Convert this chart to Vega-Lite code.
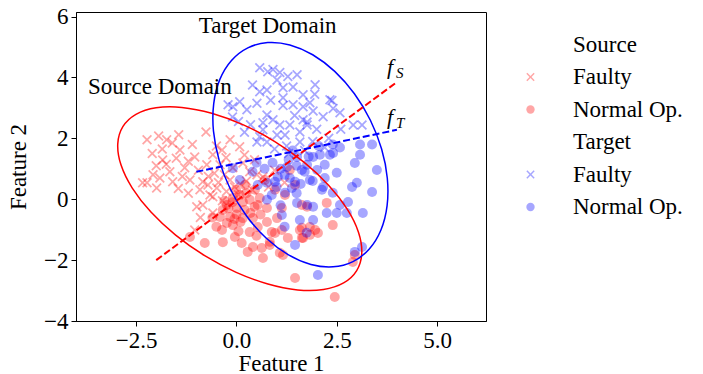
{
  "$schema": "https://vega.github.io/schema/vega-lite/v6.json",
  "width": 410,
  "height": 309,
  "autosize": {"type": "none"},
  "padding": {"left": 76, "top": 12, "right": 217, "bottom": 53},
  "background": "white",
  "config": {
    "font": "Liberation Serif",
    "view": {"stroke": "black", "strokeWidth": 1},
    "axis": {"grid": false, "domainColor": "black", "tickColor": "black", "labelColor": "black", "titleColor": "black", "labelFont": "Liberation Serif", "titleFont": "Liberation Serif", "labelFontSize": 23, "titleFontSize": 23, "titleFontWeight": "normal", "tickSize": 5, "labelPadding": 3}
  },
  "datasets": {
    "pts": [
      {"x":-2.23,"y":1.95,"c":"S_F"},{"x":-1.94,"y":2.08,"c":"S_F"},{"x":-1.74,"y":1.95,"c":"S_F"},{"x":-1.44,"y":2.12,"c":"S_F"},{"x":-0.76,"y":2.21,"c":"S_F"},{"x":-1.84,"y":1.29,"c":"S_F"},{"x":-1.41,"y":1.62,"c":"S_F"},{"x":-1.04,"y":1.39,"c":"S_F"},{"x":-2.08,"y":0.8,"c":"S_F"},{"x":-2.23,"y":0.54,"c":"S_F"},{"x":-1.59,"y":0.57,"c":"S_F"},{"x":-1.16,"y":0.63,"c":"S_F"},{"x":-0.84,"y":0.57,"c":"S_F"},{"x":-1.99,"y":0.37,"c":"S_F"},{"x":-0.91,"y":0.31,"c":"S_F"},{"x":-0.71,"y":0.47,"c":"S_F"},{"x":-0.59,"y":0.08,"c":"S_F"},{"x":-0.84,"y":-0.19,"c":"S_F"},{"x":-0.59,"y":-0.45,"c":"S_F"},{"x":-1.04,"y":-1.01,"c":"S_F"},{"x":-0.99,"y":-0.25,"c":"S_F"},{"x":-0.66,"y":0.14,"c":"S_F"},{"x":-0.49,"y":0.37,"c":"S_F"},{"x":-0.59,"y":1.46,"c":"S_F"},{"x":-0.74,"y":1.13,"c":"S_F"},{"x":-0.41,"y":1.13,"c":"S_F"},{"x":-0.09,"y":1.03,"c":"S_F"},{"x":0.16,"y":1.19,"c":"S_F"},{"x":0.33,"y":0.9,"c":"S_F"},{"x":0.51,"y":0.8,"c":"S_F"},{"x":0.08,"y":1.72,"c":"S_F"},{"x":0.66,"y":0.73,"c":"S_F"},{"x":-0.16,"y":1.95,"c":"S_F"},{"x":-0.36,"y":1.62,"c":"S_F"},{"x":-0.26,"y":1.36,"c":"S_F"},{"x":-1.29,"y":1.03,"c":"S_F"},{"x":-1.66,"y":0.9,"c":"S_F"},{"x":-1.91,"y":0.7,"c":"S_F"},{"x":-2.34,"y":0.54,"c":"S_F"},{"x":-0.16,"y":0.63,"c":"S_F"},{"x":0.1,"y":0.5,"c":"S_F"},{"x":0.4,"y":0.3,"c":"S_F"},{"x":0.8,"y":0.4,"c":"S_F"},{"x":-0.3,"y":0.8,"c":"S_F"},{"x":-0.55,"y":0.85,"c":"S_F"},{"x":-1.2,"y":1.25,"c":"S_F"},{"x":-1.5,"y":1.35,"c":"S_F"},{"x":-1.75,"y":1.15,"c":"S_F"},{"x":-1.35,"y":0.75,"c":"S_F"},{"x":-0.95,"y":0.95,"c":"S_F"},{"x":-0.45,"y":0.55,"c":"S_F"},{"x":-0.25,"y":0.25,"c":"S_F"},{"x":-0.05,"y":0.4,"c":"S_F"},{"x":0.25,"y":0.6,"c":"S_F"},{"x":-1.85,"y":1.65,"c":"S_F"},{"x":-2.0,"y":1.1,"c":"S_F"},{"x":-1.1,"y":1.8,"c":"S_F"},{"x":-0.5,"y":1.75,"c":"S_F"},{"x":0.2,"y":1.45,"c":"S_F"},{"x":-0.9,"y":-0.6,"c":"S_F"},{"x":-1.2,"y":0.2,"c":"S_F"},{"x":-1.45,"y":0.35,"c":"S_F"},{"x":-0.35,"y":-0.05,"c":"S_F"},{"x":0.05,"y":0.15,"c":"S_F"},{"x":-0.7,"y":0.75,"c":"S_F"},{"x":1.2,"y":0.55,"c":"S_F"},{"x":0.95,"y":0.95,"c":"S_F"},{"x":-2.1,"y":1.5,"c":"S_F"},{"x":-1.6,"y":1.85,"c":"S_F"},{"x":0.45,"y":1.3,"c":"S_F"},
      {"x":-0.79,"y":-1.44,"c":"S_N"},{"x":-0.34,"y":-1.41,"c":"S_N"},{"x":-0.36,"y":-1.01,"c":"S_N"},{"x":-0.04,"y":-1.24,"c":"S_N"},{"x":0.13,"y":-1.44,"c":"S_N"},{"x":0.28,"y":-1.73,"c":"S_N"},{"x":0.41,"y":-1.57,"c":"S_N"},{"x":0.66,"y":-1.93,"c":"S_N"},{"x":0.63,"y":-1.6,"c":"S_N"},{"x":0.83,"y":-1.4,"c":"S_N"},{"x":1.08,"y":-1.76,"c":"S_N"},{"x":1.16,"y":-1.83,"c":"S_N"},{"x":0.96,"y":-1.11,"c":"S_N"},{"x":1.28,"y":-1.27,"c":"S_N"},{"x":1.46,"y":-2.59,"c":"S_N"},{"x":0.33,"y":-1.08,"c":"S_N"},{"x":0.53,"y":-0.91,"c":"S_N"},{"x":0.76,"y":-0.75,"c":"S_N"},{"x":-0.16,"y":-0.58,"c":"S_N"},{"x":0.01,"y":-0.29,"c":"S_N"},{"x":0.16,"y":-0.09,"c":"S_N"},{"x":0.33,"y":-0.02,"c":"S_N"},{"x":0.53,"y":-0.19,"c":"S_N"},{"x":0.76,"y":-0.29,"c":"S_N"},{"x":0.16,"y":-0.62,"c":"S_N"},{"x":0.41,"y":-0.62,"c":"S_N"},{"x":0.58,"y":0.04,"c":"S_N"},{"x":0.08,"y":0.14,"c":"S_N"},{"x":-0.09,"y":0.04,"c":"S_N"},{"x":-0.24,"y":-0.19,"c":"S_N"},{"x":-0.34,"y":-0.35,"c":"S_N"},{"x":-0.41,"y":-0.58,"c":"S_N"},{"x":-0.09,"y":-0.85,"c":"S_N"},{"x":0.83,"y":-1.5,"c":"S_N"},{"x":0.88,"y":-1.08,"c":"S_N"},{"x":1.13,"y":-1.01,"c":"S_N"},{"x":1.01,"y":-0.62,"c":"S_N"},{"x":1.13,"y":-0.29,"c":"S_N"},{"x":1.58,"y":-1.01,"c":"S_N"},{"x":1.66,"y":-1.27,"c":"S_N"},{"x":1.63,"y":-0.19,"c":"S_N"},{"x":1.76,"y":-0.25,"c":"S_N"},{"x":2.25,"y":-0.12,"c":"S_N"},{"x":2.4,"y":-0.85,"c":"S_N"},{"x":1.63,"y":-0.94,"c":"S_N"},{"x":1.83,"y":-0.91,"c":"S_N"},{"x":1.96,"y":-1.01,"c":"S_N"},{"x":1.63,"y":-1.27,"c":"S_N"},{"x":1.83,"y":-1.17,"c":"S_N"},{"x":2.03,"y":-1.11,"c":"S_N"},{"x":2.9,"y":-2.06,"c":"S_N"},{"x":2.95,"y":-1.83,"c":"S_N"},{"x":2.45,"y":-3.21,"c":"S_N"},{"x":-1.16,"y":-1.24,"c":"S_N"},{"x":-0.24,"y":-0.78,"c":"S_N"},{"x":-0.01,"y":0.31,"c":"S_N"},{"x":0.21,"y":0.47,"c":"S_N"},{"x":0.46,"y":0.31,"c":"S_N"},{"x":0.71,"y":0.63,"c":"S_N"},{"x":0.96,"y":0.31,"c":"S_N"},{"x":1.21,"y":0.14,"c":"S_N"},{"x":1.33,"y":0.96,"c":"S_N"},{"x":1.46,"y":0.47,"c":"S_N"},{"x":-0.2,"y":-0.3,"c":"S_N"},{"x":0.0,"y":-0.5,"c":"S_N"},{"x":-0.1,"y":-0.1,"c":"S_N"},{"x":0.2,"y":-0.35,"c":"S_N"},{"x":0.35,"y":-0.45,"c":"S_N"},{"x":-0.3,"y":-0.05,"c":"S_N"},{"x":0.1,"y":-0.75,"c":"S_N"},{"x":0.45,"y":-0.25,"c":"S_N"},{"x":0.6,"y":-0.5,"c":"S_N"},{"x":-0.05,"y":-0.65,"c":"S_N"},{"x":0.25,"y":0.2,"c":"S_N"},{"x":0.5,"y":-1.2,"c":"S_N"},{"x":0.05,"y":-1.05,"c":"S_N"},{"x":-0.5,"y":-0.9,"c":"S_N"},{"x":-0.6,"y":-0.6,"c":"S_N"},
      {"x":0.58,"y":4.32,"c":"T_F"},{"x":0.78,"y":4.19,"c":"T_F"},{"x":1.08,"y":4.16,"c":"T_F"},{"x":1.28,"y":4.03,"c":"T_F"},{"x":1.01,"y":3.92,"c":"T_F"},{"x":0.58,"y":3.53,"c":"T_F"},{"x":-0.21,"y":3.1,"c":"T_F"},{"x":0.08,"y":3.2,"c":"T_F"},{"x":0.26,"y":2.94,"c":"T_F"},{"x":0.76,"y":2.77,"c":"T_F"},{"x":1.16,"y":3.33,"c":"T_F"},{"x":1.41,"y":3.1,"c":"T_F"},{"x":1.08,"y":2.44,"c":"T_F"},{"x":0.58,"y":2.05,"c":"T_F"},{"x":0.76,"y":1.88,"c":"T_F"},{"x":1.21,"y":2.11,"c":"T_F"},{"x":1.58,"y":1.88,"c":"T_F"},{"x":1.76,"y":2.54,"c":"T_F"},{"x":0.91,"y":4.26,"c":"T_F"},{"x":1.96,"y":3.76,"c":"T_F"},{"x":0.76,"y":3.59,"c":"T_F"},{"x":1.16,"y":3.66,"c":"T_F"},{"x":1.83,"y":3.17,"c":"T_F"},{"x":2.33,"y":3.27,"c":"T_F"},{"x":2.58,"y":2.84,"c":"T_F"},{"x":2.91,"y":2.44,"c":"T_F"},{"x":3.13,"y":2.44,"c":"T_F"},{"x":1.66,"y":2.61,"c":"T_F"},{"x":0.66,"y":2.51,"c":"T_F"},{"x":2.38,"y":3.24,"c":"T_F"},{"x":2.41,"y":2.98,"c":"T_F"},{"x":2.16,"y":2.71,"c":"T_F"},{"x":1.91,"y":2.9,"c":"T_F"},{"x":1.66,"y":3.04,"c":"T_F"},{"x":1.76,"y":2.44,"c":"T_F"},{"x":-0.09,"y":3.04,"c":"T_F"},{"x":0.51,"y":3.15,"c":"T_F"},{"x":0.91,"y":2.61,"c":"T_F"},{"x":1.16,"y":3.08,"c":"T_F"},{"x":0.66,"y":2.28,"c":"T_F"},{"x":0.51,"y":1.88,"c":"T_F"},{"x":1.01,"y":2.11,"c":"T_F"},{"x":1.33,"y":2.44,"c":"T_F"},{"x":1.58,"y":2.21,"c":"T_F"},{"x":1.66,"y":3.43,"c":"T_F"},{"x":1.41,"y":3.69,"c":"T_F"},{"x":1.51,"y":4.09,"c":"T_F"},{"x":1.9,"y":1.9,"c":"T_F"},{"x":2.2,"y":1.7,"c":"T_F"},{"x":1.7,"y":1.6,"c":"T_F"},{"x":0.35,"y":2.45,"c":"T_F"},{"x":0.2,"y":2.2,"c":"T_F"},{"x":0.95,"y":1.65,"c":"T_F"},{"x":1.25,"y":1.75,"c":"T_F"},{"x":1.45,"y":2.75,"c":"T_F"},{"x":2.0,"y":2.3,"c":"T_F"},{"x":2.6,"y":2.3,"c":"T_F"},{"x":0.4,"y":3.75,"c":"T_F"},{"x":-0.1,"y":2.7,"c":"T_F"},{"x":0.05,"y":2.55,"c":"T_F"},{"x":1.3,"y":1.5,"c":"T_F"},{"x":2.3,"y":2.0,"c":"T_F"},{"x":0.85,"y":3.25,"c":"T_F"},{"x":1.95,"y":3.45,"c":"T_F"},
      {"x":3.08,"y":1.8,"c":"T_N"},{"x":3.38,"y":1.8,"c":"T_N"},{"x":3.08,"y":1.46,"c":"T_N"},{"x":2.95,"y":1.19,"c":"T_N"},{"x":3.5,"y":0.96,"c":"T_N"},{"x":2.4,"y":1.8,"c":"T_N"},{"x":2.58,"y":1.7,"c":"T_N"},{"x":2.08,"y":1.46,"c":"T_N"},{"x":2.33,"y":1.46,"c":"T_N"},{"x":2.2,"y":1.13,"c":"T_N"},{"x":2.01,"y":0.96,"c":"T_N"},{"x":1.76,"y":1.13,"c":"T_N"},{"x":3.0,"y":0.54,"c":"T_N"},{"x":2.88,"y":0.4,"c":"T_N"},{"x":3.38,"y":0.24,"c":"T_N"},{"x":2.4,"y":0.21,"c":"T_N"},{"x":2.13,"y":0.31,"c":"T_N"},{"x":2.58,"y":-0.19,"c":"T_N"},{"x":2.78,"y":-0.09,"c":"T_N"},{"x":3.15,"y":-0.45,"c":"T_N"},{"x":2.25,"y":-0.45,"c":"T_N"},{"x":2.5,"y":-0.45,"c":"T_N"},{"x":2.75,"y":-0.45,"c":"T_N"},{"x":1.91,"y":-0.25,"c":"T_N"},{"x":1.91,"y":-0.68,"c":"T_N"},{"x":3.13,"y":-1.57,"c":"T_N"},{"x":2.95,"y":-1.73,"c":"T_N"},{"x":2.03,"y":-2.49,"c":"T_N"},{"x":0.08,"y":0.63,"c":"T_N"},{"x":0.53,"y":0.47,"c":"T_N"},{"x":0.96,"y":0.57,"c":"T_N"},{"x":1.33,"y":0.7,"c":"T_N"},{"x":1.38,"y":0.37,"c":"T_N"},{"x":0.88,"y":0.14,"c":"T_N"},{"x":1.21,"y":0.21,"c":"T_N"},{"x":1.51,"y":-0.12,"c":"T_N"},{"x":1.13,"y":-0.52,"c":"T_N"},{"x":1.58,"y":-0.68,"c":"T_N"},{"x":1.46,"y":-1.5,"c":"T_N"},{"x":1.76,"y":-0.19,"c":"T_N"},{"x":0.76,"y":-0.02,"c":"T_N"},{"x":0.9,"y":1.2,"c":"T_N"},{"x":1.1,"y":1.0,"c":"T_N"},{"x":1.3,"y":1.3,"c":"T_N"},{"x":1.5,"y":1.1,"c":"T_N"},{"x":1.7,"y":0.9,"c":"T_N"},{"x":1.2,"y":0.8,"c":"T_N"},{"x":1.0,"y":0.4,"c":"T_N"},{"x":1.6,"y":0.5,"c":"T_N"},{"x":1.9,"y":0.6,"c":"T_N"},{"x":1.4,"y":1.6,"c":"T_N"},{"x":1.8,"y":1.4,"c":"T_N"},{"x":0.7,"y":1.0,"c":"T_N"},{"x":0.5,"y":1.2,"c":"T_N"},{"x":2.2,"y":0.7,"c":"T_N"},{"x":1.5,"y":0.2,"c":"T_N"},{"x":1.1,"y":-0.2,"c":"T_N"},{"x":0.4,"y":0.9,"c":"T_N"},{"x":-0.09,"y":1.02,"c":"T_N"},{"x":2.41,"y":1.52,"c":"T_N"},{"x":1.91,"y":1.39,"c":"T_N"},{"x":1.51,"y":1.39,"c":"T_N"},{"x":1.63,"y":0.96,"c":"T_N"},{"x":1.26,"y":1.06,"c":"T_N"},{"x":1.03,"y":0.73,"c":"T_N"},{"x":2.5,"y":0.87,"c":"T_N"},{"x":1.83,"y":0.63,"c":"T_N"},{"x":0.76,"y":0.54,"c":"T_N"},{"x":1.46,"y":0.57,"c":"T_N"},{"x":2.16,"y":0.4,"c":"T_N"},{"x":2.05,"y":1.75,"c":"T_N"},{"x":1.2,"y":-0.9,"c":"T_N"},{"x":1.75,"y":-1.1,"c":"T_N"}
    ],
    "ellS": [
      {"i":0,"x":2.997,"y":-2.344},{"i":1,"x":2.671,"y":-2.749},{"i":2,"x":2.169,"y":-2.965},{"i":3,"x":1.525,"y":-2.978},{"i":4,"x":0.783,"y":-2.786},{"i":5,"x":-0.007,"y":-2.403},{"i":6,"x":-0.792,"y":-1.855},{"i":7,"x":-1.516,"y":-1.179},{"i":8,"x":-2.132,"y":-0.421},{"i":9,"x":-2.597,"y":0.366},{"i":10,"x":-2.879,"y":1.13},{"i":11,"x":-2.959,"y":1.818},{"i":12,"x":-2.832,"y":2.384},{"i":13,"x":-2.506,"y":2.789},{"i":14,"x":-2.005,"y":3.005},{"i":15,"x":-1.361,"y":3.017},{"i":16,"x":-0.618,"y":2.825},{"i":17,"x":0.172,"y":2.442},{"i":18,"x":0.956,"y":1.894},{"i":19,"x":1.681,"y":1.219},{"i":20,"x":2.296,"y":0.461},{"i":21,"x":2.761,"y":-0.326},{"i":22,"x":3.043,"y":-1.09},{"i":23,"x":3.123,"y":-1.779}
    ],
    "ellT": [
      {"i":0,"x":2.904,"y":-2.048},{"i":1,"x":2.408,"y":-2.222},{"i":2,"x":1.856,"y":-2.145},{"i":3,"x":1.287,"y":-1.821},{"i":4,"x":0.738,"y":-1.274},{"i":5,"x":0.247,"y":-0.541},{"i":6,"x":-0.151,"y":0.329},{"i":7,"x":-0.431,"y":1.276},{"i":8,"x":-0.573,"y":2.236},{"i":9,"x":-0.567,"y":3.143},{"i":10,"x":-0.414,"y":3.936},{"i":11,"x":-0.124,"y":4.559},{"i":12,"x":0.283,"y":4.973},{"i":13,"x":0.779,"y":5.146},{"i":14,"x":1.331,"y":5.069},{"i":15,"x":1.9,"y":4.746},{"i":16,"x":2.449,"y":4.199},{"i":17,"x":2.94,"y":3.465},{"i":18,"x":3.338,"y":2.595},{"i":19,"x":3.618,"y":1.648},{"i":20,"x":3.76,"y":0.688},{"i":21,"x":3.754,"y":-0.219},{"i":22,"x":3.601,"y":-1.011},{"i":23,"x":3.311,"y":-1.635}
    ],
    "fS": [{"x":-2.0,"y":-2.0},{"x":4.0,"y":3.85}],
    "fT": [{"x":-1.0,"y":0.9},{"x":4.0,"y":2.28}],
    "dom": [{"x":-3.7,"y":3.46,"t":"Source Domain"},{"x":-0.94,"y":5.47,"t":"Target Domain"}],
    "fl": [{"x":3.75,"y":4.12,"f":"f","s":"S"},{"x":3.75,"y":2.48,"f":"f","s":"T"}]
  },
  "layer": [
    {
      "data": {"name": "pts"},
      "mark": {"type": "point", "filled": true, "opacity": 0.35, "size": 100, "strokeWidth": 0},
      "encoding": {
        "x": {"field": "x", "type": "quantitative", "scale": {"domain": [-4, 6.22], "nice": false, "zero": false}, "axis": {"title": "Feature 1", "values": [-2.5, 0, 2.5, 5], "format": ".1f", "titlePadding": 0}},
        "y": {"field": "y", "type": "quantitative", "scale": {"domain": [-4, 6.15], "nice": false, "zero": false}, "axis": {"title": "Feature 2", "values": [-4, -2, 0, 2, 4, 6], "format": "d", "titlePadding": 13}},
        "color": {"field": "c", "type": "nominal", "scale": {"domain": ["Source", "S_F", "S_N", "Target", "T_F", "T_N"], "range": ["transparent", "#ff0000", "#ff0000", "transparent", "#0000ff", "#0000ff"]},
          "legend": {"title": null, "orient": "none", "legendX": 443, "legendY": 21, "labelFont": "Liberation Serif", "labelFontSize": 23, "labelColor": "black", "symbolSize": 70, "symbolOpacity": 0.35, "symbolStrokeWidth": 0, "rowPadding": 8.5, "labelOffset": 31, "labelExpr": "datum.label == 'S_F' || datum.label == 'T_F' ? 'Faulty' : (datum.label == 'S_N' || datum.label == 'T_N' ? 'Normal Op.' : datum.label)"}},
        "shape": {"field": "c", "type": "nominal", "scale": {"domain": ["Source", "S_F", "S_N", "Target", "T_F", "T_N"], "range": ["circle", "M-1,-0.75L-0.75,-1L0,-0.25L0.75,-1L1,-0.75L0.25,0L1,0.75L0.75,1L0,0.25L-0.75,1L-1,0.75L-0.25,0Z", "circle", "circle", "M-1,-0.75L-0.75,-1L0,-0.25L0.75,-1L1,-0.75L0.25,0L1,0.75L0.75,1L0,0.25L-0.75,1L-1,0.75L-0.25,0Z", "circle"]},
          "legend": {"title": null, "orient": "none", "legendX": 443, "legendY": 21, "labelFont": "Liberation Serif", "labelFontSize": 23, "labelColor": "black", "symbolSize": 70, "symbolOpacity": 0.35, "symbolStrokeWidth": 0, "rowPadding": 8.5, "labelOffset": 31, "labelExpr": "datum.label == 'S_F' || datum.label == 'T_F' ? 'Faulty' : (datum.label == 'S_N' || datum.label == 'T_N' ? 'Normal Op.' : datum.label)"}}
      }
    },
    {
      "data": {"name": "ellS"},
      "mark": {"type": "line", "color": "#ff0000", "strokeWidth": 1.5, "interpolate": "cardinal-closed"},
      "encoding": {"x": {"field": "x", "type": "quantitative"}, "y": {"field": "y", "type": "quantitative"}, "order": {"field": "i", "type": "quantitative"}}
    },
    {
      "data": {"name": "ellT"},
      "mark": {"type": "line", "color": "#0000ff", "strokeWidth": 1.5, "interpolate": "cardinal-closed"},
      "encoding": {"x": {"field": "x", "type": "quantitative"}, "y": {"field": "y", "type": "quantitative"}, "order": {"field": "i", "type": "quantitative"}}
    },
    {
      "data": {"name": "fS"},
      "mark": {"type": "line", "color": "#ff0000", "strokeWidth": 2, "strokeDash": [7, 3]},
      "encoding": {"x": {"field": "x", "type": "quantitative"}, "y": {"field": "y", "type": "quantitative"}}
    },
    {
      "data": {"name": "fT"},
      "mark": {"type": "line", "color": "#0000ff", "strokeWidth": 2, "strokeDash": [7, 3]},
      "encoding": {"x": {"field": "x", "type": "quantitative"}, "y": {"field": "y", "type": "quantitative"}}
    },
    {
      "data": {"name": "dom"},
      "mark": {"type": "text", "align": "left", "baseline": "alphabetic", "font": "Liberation Serif", "fontSize": 23, "color": "black"},
      "encoding": {"x": {"field": "x", "type": "quantitative"}, "y": {"field": "y", "type": "quantitative"}, "text": {"field": "t"}}
    },
    {
      "data": {"name": "fl"},
      "mark": {"type": "text", "align": "left", "baseline": "alphabetic", "font": "Liberation Serif", "fontSize": 22, "fontStyle": "italic", "color": "black"},
      "encoding": {"x": {"field": "x", "type": "quantitative"}, "y": {"field": "y", "type": "quantitative"}, "text": {"field": "f"}}
    },
    {
      "data": {"name": "fl"},
      "mark": {"type": "text", "align": "left", "baseline": "alphabetic", "font": "Liberation Serif", "fontSize": 15, "fontStyle": "italic", "color": "black", "dx": 9, "dy": 4},
      "encoding": {"x": {"field": "x", "type": "quantitative"}, "y": {"field": "y", "type": "quantitative"}, "text": {"field": "s"}}
    }
  ]
}
